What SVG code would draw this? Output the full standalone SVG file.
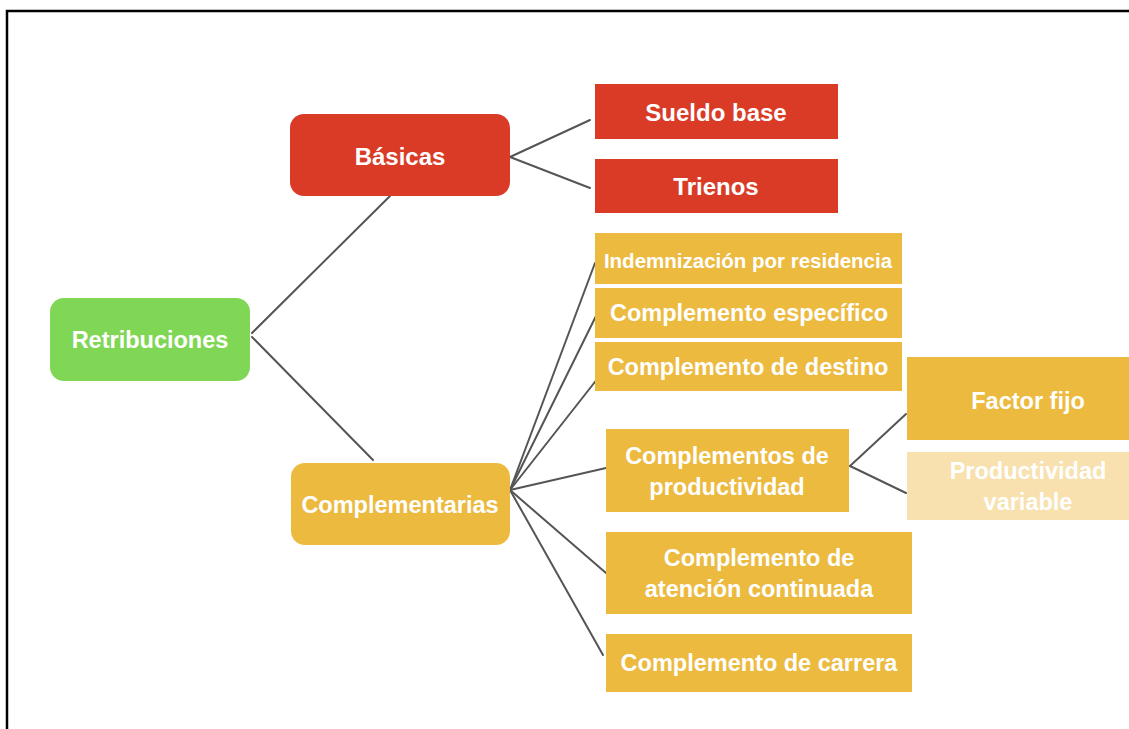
<svg xmlns="http://www.w3.org/2000/svg" width="1129" height="729" viewBox="0 0 1129 729">
<style>
.t{font-family:"Liberation Sans",Arial,sans-serif;font-weight:bold;fill:#ffffff;text-anchor:middle;dominant-baseline:central}
.m{font-size:23.5px}
.red{fill:#d93b27}
.yel{fill:#ecba3f}
.grn{fill:#80d655}
.lt{fill:#f8e1ae}
.c line{stroke:#555555;stroke-width:2;stroke-linecap:round}
</style>
<rect width="1129" height="729" fill="#ffffff"/>
<path d="M7 729 V11 H1129" fill="none" stroke="#000000" stroke-width="2.5"/>
<g class="c" id="connectors">
<line x1="390" y1="196" x2="252" y2="333"/>
<line x1="252" y1="337" x2="373" y2="460"/>
<line x1="510" y1="157" x2="590" y2="120"/>
<line x1="510" y1="157" x2="590" y2="188"/>
<line x1="510" y1="490" x2="595" y2="263"/>
<line x1="510" y1="490" x2="596" y2="316"/>
<line x1="510" y1="490" x2="598" y2="378"/>
<line x1="510" y1="490" x2="606" y2="468"/>
<line x1="510" y1="490" x2="606" y2="573"/>
<line x1="510" y1="490" x2="603" y2="655"/>
<line x1="850" y1="466" x2="906" y2="414"/>
<line x1="850" y1="466" x2="906" y2="493"/>
</g>
<g id="retribuciones"><rect class="grn" x="50" y="298" width="200" height="83" rx="14"/><text class="t m" x="150" y="340">Retribuciones</text></g>
<g id="basicas"><rect class="red" x="290" y="114" width="220" height="82" rx="14"/><text class="t" x="400" y="156" font-size="24">Básicas</text></g>
<g id="complementarias"><rect class="yel" x="291" y="463" width="219" height="82" rx="14"/><text class="t m" x="400" y="505">Complementarias</text></g>
<g id="sueldo"><rect class="red" x="595" y="84" width="243" height="55"/><text class="t" x="716" y="112" font-size="24">Sueldo base</text></g>
<g id="trienos"><rect class="red" x="595" y="159" width="243" height="54"/><text class="t" x="716" y="186" font-size="24">Trienos</text></g>
<g id="indemnizacion"><rect class="yel" x="595" y="233" width="307" height="51"/><text class="t" x="748" y="260" font-size="20.5">Indemnización por residencia</text></g>
<g id="especifico"><rect class="yel" x="595" y="288" width="307" height="50"/><text class="t m" x="749" y="313">Complemento específico</text></g>
<g id="destino"><rect class="yel" x="595" y="342" width="307" height="49"/><text class="t m" x="748" y="367">Complemento de destino</text></g>
<g id="productividad"><rect class="yel" x="606" y="429" width="243" height="83"/><text class="t m" x="727" y="456">Complementos de</text><text class="t m" x="727" y="487">productividad</text></g>
<g id="atencion"><rect class="yel" x="606" y="532" width="306" height="82"/><text class="t m" x="759" y="558">Complemento de</text><text class="t m" x="759" y="589">atención continuada</text></g>
<g id="carrera"><rect class="yel" x="606" y="634" width="306" height="58"/><text class="t m" x="759" y="663">Complemento de carrera</text></g>
<g id="factorfijo"><rect class="yel" x="907" y="357" width="222" height="83"/><text class="t m" x="1028" y="401">Factor fijo</text></g>
<g id="prodvariable"><rect class="lt" x="907" y="452" width="222" height="68"/><text class="t m" x="1028" y="471">Productividad</text><text class="t m" x="1028" y="502">variable</text></g>
</svg>
